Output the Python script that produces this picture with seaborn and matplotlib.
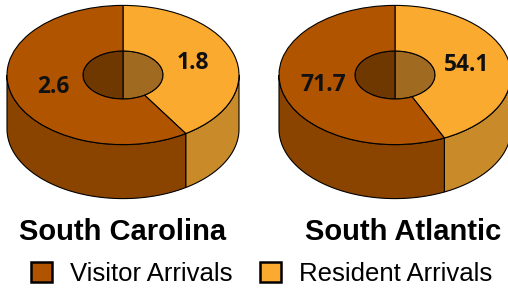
import numpy as np
import seaborn as sns
import matplotlib.pyplot as plt
from matplotlib.patches import Polygon

# data
regions = ['South Carolina', 'South Atlantic']
categories = ['Visitor Arrivals', 'Resident Arrivals']
visitor = [2.6, 71.7]
resident = [1.8, 54.1]
value_labels = {'South Carolina': ['1.8', '2.6'], 'South Atlantic': ['54.1', '71.7']}

sns.set_theme(style='white')
plt.rcParams['font.family'] = ['Liberation Sans', 'DejaVu Sans']

top_cols = ['#FBAA30', '#B05400']     # resident, visitor
side_cols = ['#C98B2A', '#8A4400']
inner_cols = ['#A06A20', '#6E3800']

squash = 0.6        # vertical squash of the disc
R = 116             # outer radius (px)
hole = 0.345        # inner radius fraction
depth = 54 / squash # side wall height in data units
centers = [(123, (288 - 75) / squash), (395, (288 - 75) / squash)]
title_x = [123, 403]

fig = plt.figure(figsize=(5.08, 2.88), dpi=100)
ax = fig.add_axes([0, 0, 1, 1])


def arc(cx, cy, r, a, b, flip=False):
    t = np.radians(np.linspace(a, b, 60))
    s = -1 if flip else 1
    return np.column_stack([cx + r * np.cos(t), cy + s * r * np.sin(t)])


def overlap(a, b, lo, hi):
    out = []
    for k in (-720, -360, 0, 360):
        x0, x1 = max(a, lo + k), min(b, hi + k)
        if x1 > x0:
            out.append((x0 - k, x1 - k))
    return out


for i, reg in enumerate(regions):
    cx, cy = centers[i]
    vals = [resident[i], visitor[i]]
    wedges, texts = ax.pie(vals, colors=top_cols, startangle=90, counterclock=False,
                           radius=R, center=(cx, cy), labels=value_labels[reg],
                           labeldistance=0.63,
                           wedgeprops=dict(width=R * (1 - hole), edgecolor='black',
                                           linewidth=0.8, zorder=3),
                           textprops=dict(fontsize=16.5, fontweight='bold',
                                          family=['Open Sans', 'DejaVu Sans'],
                                          color='#111111', zorder=5))
    for w, sc, ic in zip(wedges, side_cols, inner_cols):
        # outer side wall, front half only
        for a, b in overlap(w.theta1, w.theta2, 180, 360):
            top = arc(cx, cy, R, a, b)
            bot = arc(cx, cy - depth, R, b, a)
            ax.add_patch(Polygon(np.vstack([top, bot]), closed=True, facecolor=sc,
                                 edgecolor='black', linewidth=0.8, zorder=2))
        # inner wall seen through the hole, back half
        for a, b in overlap(w.theta1, w.theta2, 0, 180):
            up = arc(cx, cy, R * hole, a, b)
            lo = arc(cx, cy, R * hole, b, a, flip=True)
            ax.add_patch(Polygon(np.vstack([up, lo]), closed=True, facecolor=ic,
                                 edgecolor='black', linewidth=0.8, zorder=2))
    for t in texts:
        t.set_ha('center')
        t.set_va('center')

ax.set_aspect('auto')
ax.set_xlim(0, 508)
ax.set_ylim(0, 288 / squash)
ax.axis('off')

for i, reg in enumerate(regions):
    fig.text(title_x[i] / 508, 1 - 232 / 288, reg, ha='center', va='center',
             fontsize=21, fontweight='bold', color='black')

handles = [plt.Rectangle((0, 0), 1, 1, facecolor=c, edgecolor='black', linewidth=1.8)
           for c in [top_cols[1], top_cols[0]]]
leg = fig.legend(handles, categories, loc='center', bbox_to_anchor=(0.515, 1 - 274 / 288),
                 ncol=2, frameon=False, fontsize=18.5, handlelength=0.8, handleheight=0.8,
                 handletextpad=0.7, columnspacing=1.1, borderaxespad=0)
for t in leg.get_texts():
    t.set_color('black')

fig.savefig('out.png', dpi=100)
